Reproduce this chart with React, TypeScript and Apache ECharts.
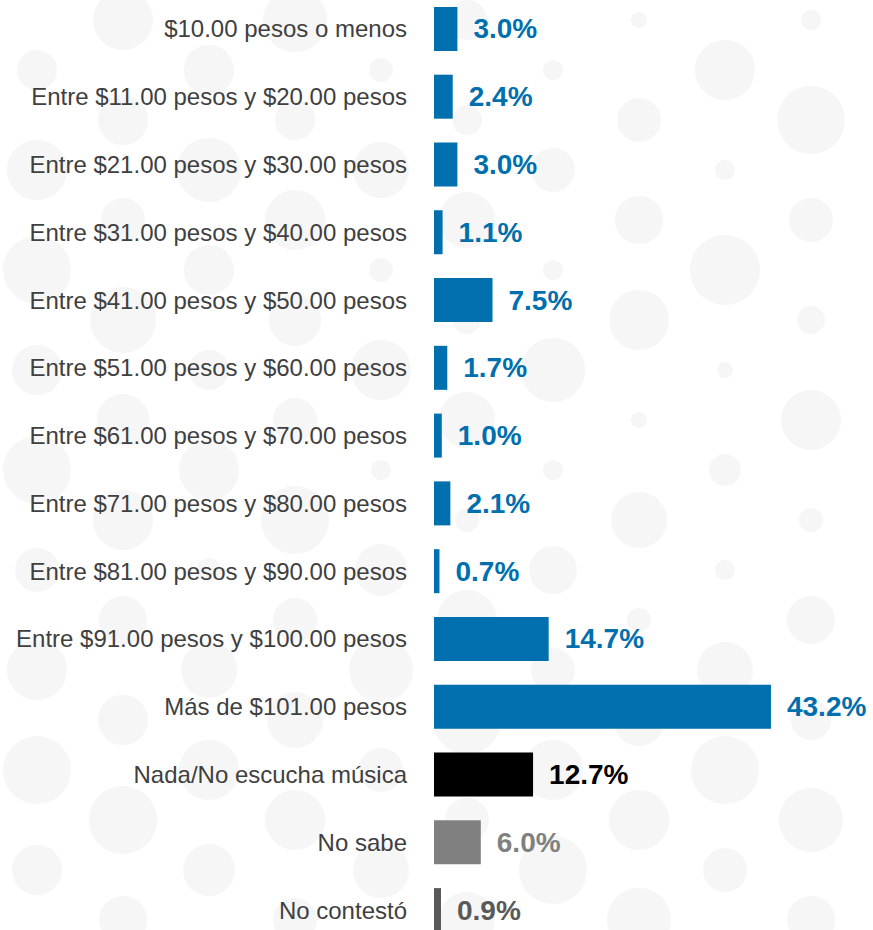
import React, { useEffect, useRef } from "react";
import * as echarts from "echarts";

const categories = [
  "$10.00 pesos o menos",
  "Entre $11.00 pesos y $20.00 pesos",
  "Entre $21.00 pesos y $30.00 pesos",
  "Entre $31.00 pesos y $40.00 pesos",
  "Entre $41.00 pesos y $50.00 pesos",
  "Entre $51.00 pesos y $60.00 pesos",
  "Entre $61.00 pesos y $70.00 pesos",
  "Entre $71.00 pesos y $80.00 pesos",
  "Entre $81.00 pesos y $90.00 pesos",
  "Entre $91.00 pesos y $100.00 pesos",
  "Más de $101.00 pesos",
  "Nada/No escucha música",
  "No sabe",
  "No contestó",
];
const values = [3.0, 2.4, 3.0, 1.1, 7.5, 1.7, 1.0, 2.1, 0.7, 14.7, 43.2, 12.7, 6.0, 0.9];
const barColors = [
  "#006fad", "#006fad", "#006fad", "#006fad", "#006fad", "#006fad", "#006fad",
  "#006fad", "#006fad", "#006fad", "#006fad", "#000000", "#808080", "#595959",
];

// decorative background bubbles: radius per [row][column]
const bubbleCols = [37, 123, 209, 295, 381, 467, 553, 639, 725, 811];
const bubbleRadii = [
  [20, 30, 25, 32, 12, 20, 10, 8, 30, 10],
  [30, 25, 32, 20, 28, 15, 22, 22, 10, 34],
  [34, 22, 25, 30, 12, 28, 10, 24, 35, 22],
  [25, 33, 20, 26, 30, 14, 32, 30, 8, 14],
  [34, 26, 30, 22, 10, 28, 10, 8, 16, 30],
  [22, 30, 12, 34, 26, 12, 24, 28, 10, 12],
  [30, 24, 28, 22, 32, 30, 22, 12, 28, 24],
  [34, 25, 30, 28, 22, 34, 30, 26, 34, 20],
  [25, 34, 26, 30, 28, 22, 34, 30, 22, 32],
  [30, 24, 30, 22, 30, 28, 24, 32, 28, 24],
];

export default function App() {
  const ref = useRef<HTMLDivElement>(null);
  useEffect(() => {
    if (!ref.current) return;
    const chart = echarts.init(ref.current, null, { renderer: "svg" });
    const bubbles: any[] = [];
    for (let row = 0; row < 10; row++) {
      bubbleCols.forEach((cx, ci) => {
        const odd = ci % 2 === 1;
        const cy = (odd ? 25 : 75) + row * 100;
        const r = bubbleRadii[row][ci];
        bubbles.push({
          type: "circle",
          shape: { cx, cy, r },
          style: { fill: "#f6f6f6" },
          silent: true,
          z: -10,
        });
      });
    }
    chart.setOption({
      animation: false,
      backgroundColor: "#ffffff",
      graphic: bubbles,
      grid: { left: 434, right: 49, top: 0, bottom: 0, containLabel: false },
      xAxis: {
        type: "value",
        min: 0,
        max: 50,
        show: false,
      },
      yAxis: {
        type: "category",
        data: categories,
        inverse: true,
        axisLine: { show: false },
        axisTick: { show: false },
        splitLine: { show: false },
        axisLabel: {
          fontSize: 24,
          color: "#404040",
          margin: 27,
          fontFamily: "Liberation Sans, Arial, sans-serif",
        },
      },
      series: [
        {
          type: "bar",
          barWidth: 44,
          data: values.map((v, i) => ({
            value: v,
            itemStyle: { color: barColors[i] },
            label: { color: barColors[i] },
          })),
          label: {
            show: true,
            position: "right",
            distance: 16,
            fontSize: 28,
            fontWeight: "bold",
            fontFamily: "Liberation Sans, Arial, sans-serif",
            formatter: (p: any) => p.value.toFixed(1) + "%",
          },
        },
      ],
    });
    return () => chart.dispose();
  }, []);
  return (
    <div
      style={{
        position: "absolute",
        left: 0,
        top: 0,
        width: 873,
        height: 930,
        overflow: "hidden",
        background: "#ffffff",
      }}
    >
      <div
        ref={ref}
        style={{ position: "absolute", left: 0, top: -5, width: 873, height: 949 }}
      />
    </div>
  );
}
